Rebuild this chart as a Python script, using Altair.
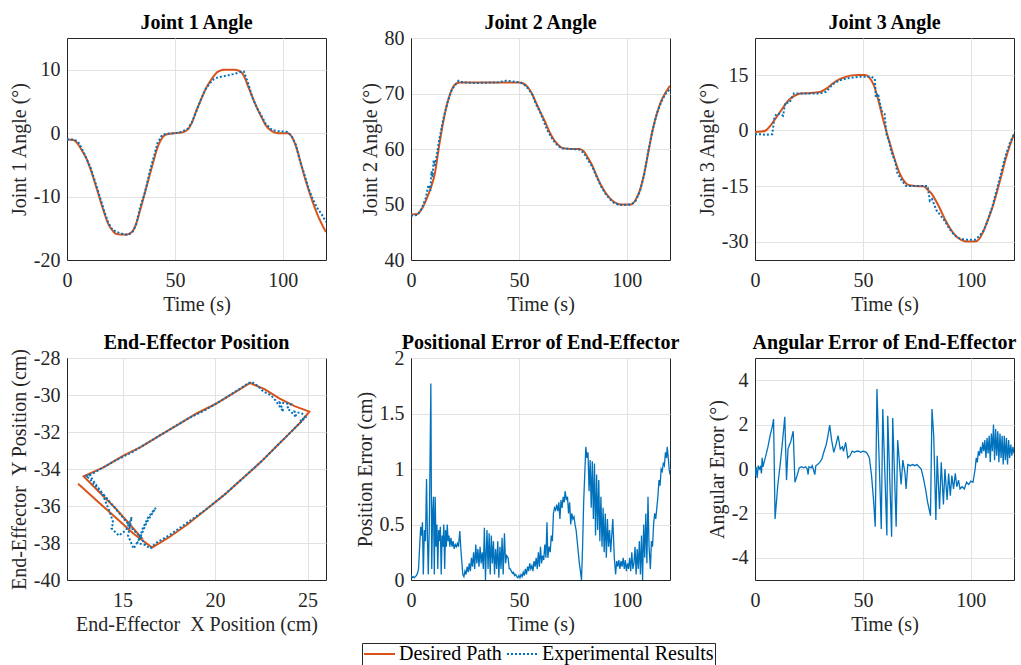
import altair as alt
import pandas as pd

F = "'Liberation Serif', 'Times New Roman', Times, 'DejaVu Serif', serif"
BLUE = "#0072BD"
ORANGE = "#D95319"
SERIES = ["Desired Path", "Experimental Results"]
LBL = "'' + datum.value"

# ---------------- Joint 1 ----------------
J1_T_DES = [0, 3, 5, 7, 9, 11, 14, 17, 19, 21, 23, 27, 30, 32, 34, 36, 38, 40, 42, 44, 46, 50, 53, 56, 58,
            60, 62, 64, 66, 68, 70, 73, 77, 80, 82, 84, 86, 88, 90, 92, 95, 98, 102, 104, 106, 108, 110,
            112, 114, 116, 118, 120]
J1_DES = [-1, -1.1, -1.7, -2.8, -4, -5.8, -9, -12.3, -14.2, -15.3, -15.9, -16, -15.6, -14.3, -12, -9.5, -7,
          -4.5, -2.2, -0.8, -0.2, 0, 0.1, 0.6, 1.8, 3.6, 5.2, 6.8, 8, 9, 9.7, 10, 10, 9.8, 9, 7.3, 5.6, 4,
          2.6, 1.3, 0.3, 0, 0, -0.5, -2, -4.3, -6.8, -9, -11, -12.8, -14.3, -15.6]
J1_T_EXP = J1_T_DES
J1_EXP = [-1, -1, -1.3, -2.5, -4, -5.5, -8.7, -12, -14, -15.2, -15.6, -16, -15.8, -14.5, -11.5, -9.5, -6.5,
          -4, -1.5, -0.3, -0.1, 0, 0.2, 0.7, 1.8, 3.5, 5.3, 6.8, 7.8, 8.5, 8.8, 9, 9.3, 9.6, 9.7, 7.8, 5.5,
          4, 2.8, 1.5, 0.5, 0.3, 0.2, -0.4, -1.8, -4.5, -6.5, -8.8, -10.5, -11.8, -12.8, -14]

# ---------------- Joint 2 ----------------
J2_T_DES = [0, 3, 5, 7, 9, 11, 13, 15, 17, 19, 21, 23, 30, 40, 50, 52, 54, 56, 58, 60, 62, 64, 66, 68, 70,
            74, 78, 80, 82, 84, 86, 88, 90, 92, 94, 96, 98, 102, 104, 106, 108, 110, 112, 114, 116, 118, 120]
J2_DES = [48.2, 48.3, 49.2, 50.8, 52.8, 55.5, 60.5, 65, 68.5, 70.8, 71.8, 72, 72, 72, 72, 71.8, 71.2, 70,
          68.3, 66.6, 65, 63.2, 61.8, 60.8, 60.2, 60, 60, 59.6, 58.4, 57, 55.2, 53.5, 52.2, 51.2, 50.5, 50.1,
          50, 50, 50.8, 52.5, 55.5, 59.5, 63.5, 66.5, 68.7, 70.2, 71.4]
J2_T_EXP = [0, 3, 5, 7, 8, 9, 9.5, 10, 10.5, 11, 12, 13, 15, 17, 19, 21, 22, 24, 30, 40, 44, 50, 52, 54, 56,
            58, 60, 62, 63, 64, 66, 68, 70, 74, 78, 80, 82, 84, 86, 88, 90, 92, 94, 96, 98, 102, 104, 106,
            108, 110, 112, 114, 116, 118, 120]
J2_EXP = [48, 48.1, 49.3, 51.3, 53.5, 52.5, 56, 55, 58, 57, 59, 61.5, 65.5, 68.5, 70.8, 71.8, 72.3, 72, 71.9,
          72, 72.3, 72, 71.8, 71, 70, 68, 66.5, 64.5, 63.5, 62.8, 61.5, 60.6, 60.1, 60, 59.9, 59.3, 58, 56.8,
          55, 53.3, 52, 51, 50.3, 50, 49.9, 50, 50.6, 52.3, 55.3, 59.8, 63.5, 66.5, 68.5, 70, 70.8]

# ---------------- Joint 3 ----------------
J3_T_DES = [0, 3, 5, 7, 9, 11, 13, 15, 17, 19, 21, 25, 30, 33, 36, 39, 42, 45, 48, 51, 53, 55, 57, 59, 61,
            63, 65, 67, 69, 71, 74, 78, 80, 82, 84, 86, 88, 90, 92, 94, 96, 98, 102, 104, 106, 108, 110, 112,
            114, 116, 118, 120]
J3_DES = [-0.4, -0.3, 0, 1.2, 2.8, 4.5, 6.2, 7.8, 8.9, 9.6, 10, 10.1, 10.4, 11.3, 12.7, 13.8, 14.5, 14.9,
          15, 15, 14.3, 12.3, 8.5, 3.8, -0.5, -4.5, -8.3, -11.5, -13.6, -14.7, -15, -15.1, -16, -17.2, -19.2,
          -21.5, -24, -26.1, -27.8, -29, -29.7, -30, -30, -29.2, -27, -24, -20.8, -16.8, -12.5, -8, -4.2, -1]
J3_T_EXP = [0, 3, 5, 7, 8, 9, 10, 12, 13, 14, 16, 18, 20, 25, 30, 33, 36, 39, 42, 45, 48, 51, 54, 55.5, 56,
            57, 58, 59, 60, 61, 62, 63, 64, 65, 66, 68, 70, 74, 78, 80, 81, 82, 83, 84, 86, 88, 90, 92, 94,
            96, 98, 102, 104, 106, 108, 110, 112, 114, 116, 118, 120]
J3_EXP = [-1, -1, -1.2, -1, -1, 3.5, 4.5, 4.5, 4, 7.5, 7.5, 10, 10, 10, 10, 10.5, 12.5, 13.5, 14, 14.3, 14.5,
          14.5, 14.5, 14, 9, 10, 7, 5, 4.5, -1.5, -2.5, -5.5, -7, -8.5, -11.5, -13.5, -15, -15, -15, -15,
          -19, -18.5, -20, -21.5, -23, -24.5, -26.5, -28, -29, -29.3, -29.5, -29.5, -28.5, -27, -24, -20.5,
          -16, -11.5, -7, -3.5, -1]

# ---------------- End-effector path (x, y in cm) ----------------
EE_DES = [(12.6, -34.8), (13.6, -35.7), (14.6, -36.6), (15.6, -37.5), (16.6, -38.25), (17.5, -37.7),
          (18.5, -37.0), (19.5, -36.2), (20.5, -35.4), (21.5, -34.5), (22.5, -33.6), (23.3, -32.8),
          (24.0, -32.1), (24.6, -31.5), (25.1, -30.9), (24.3, -30.6), (23.5, -30.2), (22.7, -29.7),
          (21.9, -29.35), (21.0, -29.9), (20.0, -30.5), (19.0, -31.0), (18.0, -31.6), (17.0, -32.2),
          (16.0, -32.8), (15.0, -33.3), (14.0, -33.9), (12.9, -34.4), (13.7, -35.2), (14.6, -36.1),
          (15.4, -37.0), (16.1, -37.8)]
EE_EXP = [(13.0, -34.4), (13.2, -34.3), (13.4, -34.6), (13.6, -34.9), (13.9, -35.3), (14.1, -35.8),
          (14.3, -36.3), (14.5, -36.9), (14.4, -37.2), (14.8, -37.6), (15.2, -37.3), (15.5, -36.6),
          (15.3, -37.6), (15.6, -38.3), (15.9, -37.8), (16.1, -37.2), (16.4, -36.6), (16.8, -36.1),
          (16.3, -36.9), (16.0, -37.6), (15.8, -38.0), (16.2, -38.1), (16.5, -38.3), (16.8, -38.0),
          (17.5, -37.6), (18.5, -36.9), (19.5, -36.2), (20.5, -35.4), (21.5, -34.5), (22.5, -33.6),
          (23.3, -32.8), (24.0, -32.1), (24.5, -31.6), (24.8, -31.3), (24.6, -31.4), (24.9, -31.2),
          (24.7, -31.0), (24.3, -30.9), (24.4, -31.2), (23.9, -30.7), (24.1, -30.5), (23.5, -30.4),
          (23.7, -30.9), (23.2, -30.2), (23.0, -30.0), (22.6, -29.8), (22.3, -29.5), (22.0, -29.3),
          (21.8, -29.35), (21.6, -29.5), (20.5, -30.2), (19.5, -30.8), (18.5, -31.3), (17.5, -31.9),
          (16.5, -32.5), (15.5, -33.1), (14.5, -33.6), (13.8, -34.0), (13.3, -34.3), (13.0, -34.4),
          (13.2, -34.5), (13.6, -35.0), (14.0, -35.4), (14.5, -36.0), (15.0, -36.6), (15.5, -37.2),
          (16.0, -37.7), (16.3, -38.2)]

# ---------------- Positional error (t s, cm) ----------------
POS_ERR = [(0, 0.05), (0.5, 0.02), (1, 0.03), (1.5, 0.02), (2, 0.03), (2.5, 0.04), (3, 0.06), (3.5, 0.1),
           (4, 0.3), (4.5, 0.48), (5, 0.4), (5.3, 0.52), (5.7, 0.05), (6.2, 0.45), (6.7, 0.35), (7.2, 0.91),
           (7.6, 0.4), (8, 0.05), (8.5, 0.5), (9.2, 1.77), (9.6, 0.1), (10, 0.6), (10.4, 0.75), (10.8, 0.05),
           (11.2, 0.75), (11.6, 0.3), (12, 0.5), (12.4, 0.1), (12.8, 0.45), (13.2, 0.35), (13.6, 0.48),
           (14, 0.05), (14.4, 0.4), (14.8, 0.3), (15.2, 0.5), (15.6, 0.1), (16, 0.45), (16.4, 0.3),
           (16.8, 0.5), (17.2, 0.35), (17.6, 0.4), (18, 0.3), (18.5, 0.38), (19, 0.3), (19.5, 0.35),
           (20, 0.28), (20.5, 0.32), (21, 0.3), (21.5, 0.33), (22, 0.3), (22.6, 0.44), (23.2, 0.25),
           (24, 0.05), (24.5, 0.03), (25, 0.08), (25.5, 0.05), (26, 0.12), (26.5, 0.07), (27, 0.15),
           (27.5, 0.08), (28, 0.2), (28.5, 0.12), (29, 0.25), (29.5, 0.1), (30, 0.32), (30.5, 0.15),
           (31, 0.28), (31.5, 0.12), (32, 0.3), (32.5, 0.15), (33, 0.25), (33.5, 0.1), (34, 0.47),
           (34.5, 0.0), (35.2, 0.45), (35.7, 0.1), (36.2, 0.42), (36.7, 0.05), (37.2, 0.4), (37.7, 0.15),
           (38.2, 0.35), (38.7, 0.05), (39.2, 0.28), (39.7, 0.1), (40.2, 0.35), (40.7, 0.02), (41.2, 0.3),
           (41.7, 0.1), (42.2, 0.38), (42.7, 0.05), (43.3, 0.42), (43.8, 0.15), (44.3, 0.22), (45, 0.2),
           (45.5, 0.1), (46, 0.1), (46.5, 0.08), (47, 0.06), (47.5, 0.07), (48, 0.04), (48.5, 0.05),
           (49, 0.03), (49.5, 0.02), (50, 0.04), (50.5, 0.02), (51, 0.05), (51.5, 0.03), (52, 0.07),
           (52.5, 0.04), (53, 0.1), (53.5, 0.05), (54, 0.12), (54.5, 0.08), (55, 0.15), (55.5, 0.1),
           (56, 0.13), (56.5, 0.08), (57, 0.17), (57.5, 0.12), (58, 0.2), (58.5, 0.1), (59, 0.25),
           (59.5, 0.12), (60, 0.3), (60.5, 0.15), (61, 0.22), (61.5, 0.18), (62, 0.32), (62.5, 0.2),
           (63, 0.52), (63.4, 0.2), (64, 0.3), (64.5, 0.25), (65, 0.4), (65.5, 0.35), (66, 0.6),
           (66.5, 0.65), (67, 0.63), (67.5, 0.68), (68, 0.62), (68.5, 0.7), (69, 0.55), (69.5, 0.72),
           (70, 0.65), (70.5, 0.75), (71, 0.7), (71.4, 0.8), (72, 0.72), (72.5, 0.75), (73, 0.6),
           (73.5, 0.7), (74, 0.5), (74.5, 0.6), (75, 0.55), (75.5, 0.57), (76, 0.5), (76.5, 0.45),
           (77, 0.35), (77.5, 0.25), (78, 0.15), (78.5, 0.08), (79, 0.0), (79.5, 0.3), (80, 0.7),
           (80.5, 0.95), (81, 1.2), (81.5, 1.1), (82, 1.15), (82.5, 0.8), (83, 1.08), (83.5, 0.65),
           (84, 1.07), (84.5, 0.55), (85, 1.05), (85.5, 0.4), (86, 0.95), (86.5, 0.45), (87, 0.9),
           (87.5, 0.35), (88, 0.75), (88.5, 0.3), (89, 0.65), (89.5, 0.25), (90, 0.6), (90.5, 0.2),
           (91, 0.55), (91.5, 0.3), (92, 0.45), (92.5, 0.25), (93.5, 0.55), (94.2, 0.2), (94.8, 0.05),
           (95.3, 0.17), (95.8, 0.12), (96.3, 0.18), (96.8, 0.1), (97.3, 0.17), (97.8, 0.12), (98.3, 0.2),
           (98.8, 0.1), (99.3, 0.18), (99.8, 0.08), (100.3, 0.15), (100.8, 0.1), (101.3, 0.2), (101.8, 0.08),
           (102.3, 0.25), (102.8, 0.1), (103.3, 0.15), (103.8, 0.3), (104.3, 0.05), (104.8, 0.28),
           (105.3, 0.1), (105.8, 0.35), (106.3, 0.05), (106.8, 0.4), (107.3, 0.0), (107.8, 0.5),
           (108.3, 0.2), (108.8, 0.6), (109.3, 0.15), (109.8, 0.75), (110.3, 0.3), (110.9, 0.1),
           (111.4, 0.35), (111.9, 0.3), (112.4, 0.5), (112.9, 0.6), (113.4, 0.55), (113.9, 0.65),
           (114.4, 0.75), (114.9, 0.9), (115.4, 0.85), (115.9, 1.0), (116.4, 0.98), (116.9, 1.05),
           (117.4, 1.03), (117.9, 1.15), (118.4, 1.1), (118.7, 1.2), (119.2, 1.1), (119.6, 1.0), (120, 0.95)]

# ---------------- Angular error (t s, deg) ----------------
ANG_ERR = [(0, -0.3), (0.5, 0.1), (1, -0.4), (1.5, 0.15), (2, 0.0), (2.5, 0.1), (3, -0.2), (3.3, 0.5),
           (3.7, 0.1), (4.2, 0.3), (5, 0.6), (6, 1.0), (7, 1.5), (8, 1.9), (8.6, 2.25), (9.3, -2.25),
           (10.5, -0.8), (12, 0.5), (13, 1.5), (13.8, 2.35), (14.6, -0.5), (15.3, 0.9), (16, 1.1),
           (16.5, 1.2), (17.2, 1.5), (17.7, 1.7), (18.5, -0.6), (19.5, -0.3), (20.5, 0.05), (21.5, 0.1),
           (22.5, 0.05), (23.5, 0.1), (24.2, 0.0), (24.6, -0.25), (25, 0.1), (26, 0.05), (26.5, 0.15),
           (27, 0.0), (27.7, -0.25), (28.2, 0.15), (29, 0.2), (30, 0.3), (31, 0.45), (32, 0.8), (33, 1.1),
           (33.8, 1.5), (34.6, 1.98), (35.5, 1.3), (36.5, 0.75), (37.5, 1.1), (38.5, 1.5), (39.5, 0.9),
           (40.5, 1.0), (41, 0.8), (42, 1.2), (43, 0.5), (44, 0.6), (45, 0.8), (46, 0.75), (47, 0.8),
           (48, 0.8), (49, 0.75), (50, 0.8), (51, 0.78), (52, 0.7), (53, 0.5), (54, -0.3), (55, -1.5),
           (55.7, -2.6), (56.5, 3.6), (58.5, -2.7), (59.2, 2.7), (61.1, -3.0), (61.5, 2.4), (63.3, -3.05),
           (63.8, 2.3), (65.4, -2.6), (66.1, 1.3), (67.7, -0.7), (68.5, 0.4), (69.5, -0.2), (70, -0.9),
           (70.8, 0.2), (72, 0.15), (73, 0.2), (74, 0.15), (75, 0.2), (76, 0.1), (77, 0.0), (78, -0.4),
           (79, -0.9), (80, -1.5), (81.3, -2.1), (82, 2.7), (82.8, 1.5), (83.8, -2.3), (84.4, 0.6),
           (85.5, -1.8), (86.3, 0.3), (87.3, -1.6), (88, 0.0), (89, -1.4), (89.7, -0.2), (90.5, -1.2),
           (91.2, -0.3), (92, -0.9), (92.8, -0.2), (93.5, -0.8), (94.3, -0.5), (95, -0.9), (96, -0.8),
           (97, -0.9), (98, -0.6), (99, -0.7), (100, -0.55), (101, -0.6), (102, 0.0), (102.5, 0.5),
           (103, 0.3), (103.5, 0.8), (104, 0.6), (104.5, 1.0), (105, 0.7), (105.5, 1.2), (106, 0.8),
           (106.5, 1.3), (107, 0.5), (107.5, 1.4), (108, 0.7), (108.5, 1.5), (109, 0.3), (109.5, 1.6),
           (110, 0.8), (110.5, 2.0), (111, 0.4), (111.5, 1.8), (112, 0.6), (112.5, 1.7), (113, 0.3),
           (113.5, 1.6), (114, 0.5), (114.5, 1.5), (115, 0.2), (115.5, 1.5), (116, 0.4), (116.5, 1.4),
           (117, 0.2), (117.5, 1.3), (118, 0.5), (118.5, 1.1), (119, 0.6), (119.5, 1.0), (120, 0.7)]

TITLES = ["Joint 1 Angle", "Joint 2 Angle", "Joint 3 Angle", "End-Effector Position",
          "Positional Error of End-Effector", "Angular Error of End-Effector"]

W, H = 259, 222


def title_layer(text):
    return alt.Chart(pd.DataFrame({"k": [0]})).mark_text(
        text=text, font=F, fontSize=20, fontWeight="bold", color="black",
        align="center", baseline="alphabetic"
    ).encode(x=alt.value(W / 2), y=alt.value(-9))


def time_x():
    return alt.X("t:Q", scale=alt.Scale(domain=[0, 120], nice=False),
                 axis=alt.Axis(values=[0, 50, 100], title="Time (s)", labelExpr=LBL))


def y_enc(field, dom, vals, title):
    return alt.Y(field, scale=alt.Scale(domain=dom, nice=False, zero=False),
                 axis=alt.Axis(values=vals, title=title, labelExpr=LBL))


LEG = alt.Legend(orient="none", legendX=295, legendY=605, direction="horizontal", title=None,
                 symbolType="stroke", symbolSize=961, symbolStrokeWidth=2, labelFont=F,
                 labelFontSize=20, labelColor="black", labelLimit=400, padding=1,
                 strokeColor="#262626", fillColor="white", columnPadding=4, labelOffset=3,
                 clipHeight=20)


def joint(td, vd, te, ve, title, ytitle, dom, vals, legend=False):
    d = pd.DataFrame({"t": td, "v": vd, "s": SERIES[0]})
    e = pd.DataFrame({"t": te, "v": ve, "s": SERIES[1]})
    y = y_enc("v:Q", dom, vals, ytitle)
    if legend:
        col = alt.Color("s:N", scale=alt.Scale(domain=SERIES, range=[ORANGE, BLUE]), legend=LEG)
        dash = alt.StrokeDash("s:N", scale=alt.Scale(domain=SERIES, range=[[1, 0], [2, 2]]), legend=LEG)
        l1 = alt.Chart(d).mark_line(interpolate="monotone", strokeWidth=2, clip=True).encode(
            x=time_x(), y=y, color=col, strokeDash=dash)
        l2 = alt.Chart(e).mark_line(strokeWidth=2, clip=True).encode(
            x=time_x(), y=y, color=col, strokeDash=dash)
    else:
        l1 = alt.Chart(d).mark_line(interpolate="monotone", strokeWidth=2, clip=True, color=ORANGE).encode(
            x=time_x(), y=y)
        l2 = alt.Chart(e).mark_line(strokeWidth=2, clip=True, color=BLUE, strokeDash=[2, 2]).encode(
            x=time_x(), y=y)
    return alt.layer(l1, l2, title_layer(title)).properties(width=W, height=H)


p1 = joint(J1_T_DES, J1_DES, J1_T_EXP, J1_EXP, TITLES[0], "Joint 1 Angle (°)",
           [-20, 15], [-20, -10, 0, 10], legend=True)
p2 = joint(J2_T_DES, J2_DES, J2_T_EXP, J2_EXP, TITLES[1], "Joint 2 Angle (°)",
           [40, 80], [40, 50, 60, 70, 80])
p3 = joint(J3_T_DES, J3_DES, J3_T_EXP, J3_EXP, TITLES[2], "Joint 3 Angle (°)",
           [-35, 25], [-30, -15, 0, 15])

ee_d = pd.DataFrame({"x": [p[0] for p in EE_DES], "y": [p[1] for p in EE_DES], "i": range(len(EE_DES))})
ee_e = pd.DataFrame({"x": [p[0] for p in EE_EXP], "y": [p[1] for p in EE_EXP], "i": range(len(EE_EXP))})
ex = alt.X("x:Q", scale=alt.Scale(domain=[12, 26], nice=False, zero=False),
           axis=alt.Axis(values=[15, 20, 25], title="End-Effector\u2002X Position (cm)", labelExpr=LBL))
ey = y_enc("y:Q", [-40, -28], [-40, -38, -36, -34, -32, -30, -28], "End-Effector\u2002Y Position (cm)")
p4 = alt.layer(
    alt.Chart(ee_d).mark_line(color=ORANGE, strokeWidth=2, clip=True).encode(x=ex, y=ey, order="i:Q"),
    alt.Chart(ee_e).mark_line(color=BLUE, strokeWidth=2, strokeDash=[2, 2], clip=True).encode(
        x=ex, y=ey, order="i:Q"),
    title_layer(TITLES[3]),
).properties(width=W, height=H)

pos = pd.DataFrame({"t": [p[0] for p in POS_ERR], "v": [p[1] for p in POS_ERR]})
p5 = alt.layer(
    alt.Chart(pos).mark_line(color=BLUE, strokeWidth=1.3, clip=True).encode(
        x=time_x(), y=y_enc("v:Q", [0, 2], [0, 0.5, 1, 1.5, 2], "Position Error (cm)")),
    title_layer(TITLES[4]),
).properties(width=W, height=H)

ang = pd.DataFrame({"t": [p[0] for p in ANG_ERR], "v": [p[1] for p in ANG_ERR]})
p6 = alt.layer(
    alt.Chart(ang).mark_line(color=BLUE, strokeWidth=1.3, clip=True).encode(
        x=time_x(), y=y_enc("v:Q", [-5, 5], [-4, -2, 0, 2, 4], "Angular Error (°)")),
    title_layer(TITLES[5]),
).properties(width=W, height=H)

chart = alt.concat(p1, p2, p3, p4, p5, p6, columns=3,
                   spacing={"row": 98, "column": 85}, bounds="flush").resolve_legend(
    color="independent", strokeDash="independent"
).properties(
    padding={"left": 8, "top": 12, "right": 0, "bottom": 0}
).configure(background="white").configure_view(
    stroke="#262626", strokeWidth=1
).configure_axis(
    labelFont=F, labelFontSize=20, labelColor="#262626", titleFont=F, titleFontSize=20,
    titleFontWeight="normal", titleColor="#262626", gridColor="#e2e2e2", domainColor="#262626",
    ticks=False, labelPadding=7, titlePadding=4, labelFlush=False
).configure_axisX(labelPadding=10, titlePadding=4)

chart.save("out.html", embed_options={"renderer": "svg", "actions": False})
